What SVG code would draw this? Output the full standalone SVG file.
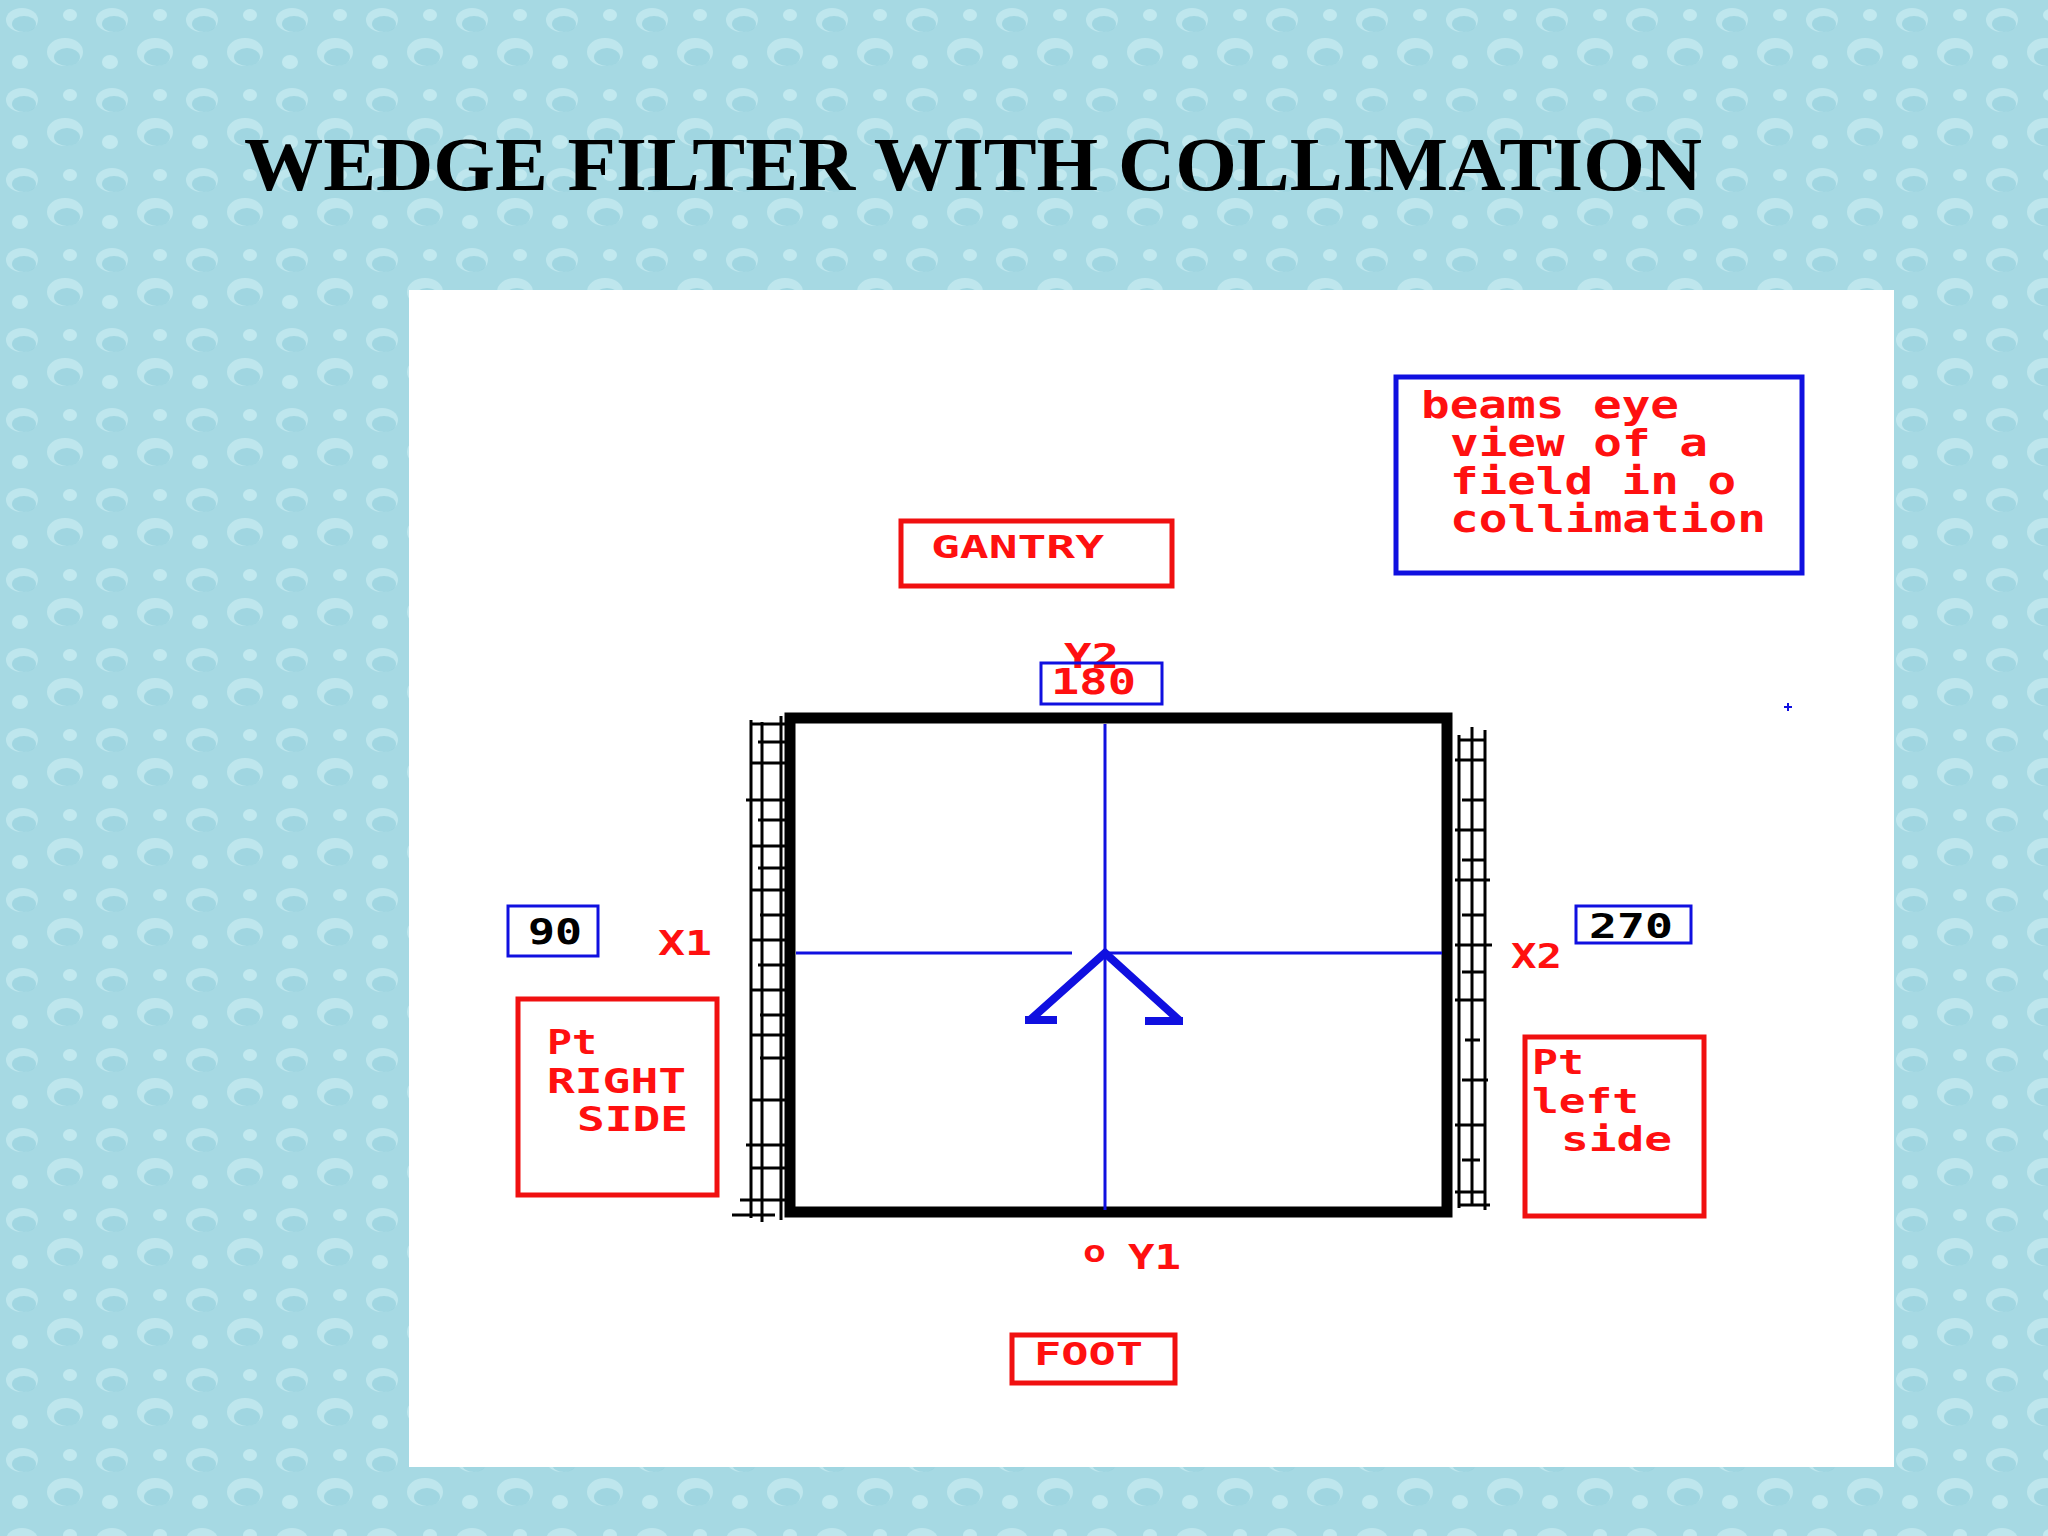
<svg xmlns="http://www.w3.org/2000/svg" width="2048" height="1536" viewBox="0 0 2048 1536">
<defs>
<pattern id="drops" width="90" height="80" patternUnits="userSpaceOnUse">
<rect width="90" height="80" fill="#a6d9e3"/>
<ellipse cx="22" cy="20" rx="16" ry="12" fill="#c4eaf0" opacity="0.8"/>
<ellipse cx="24" cy="24" rx="12" ry="8" fill="#8ccbd8" opacity="0.6"/>
<ellipse cx="65" cy="52" rx="18" ry="14" fill="#c4eaf0" opacity="0.8"/>
<ellipse cx="67" cy="57" rx="13" ry="9" fill="#8ccbd8" opacity="0.6"/>
<ellipse cx="70" cy="15" rx="7" ry="6" fill="#c9edf2" opacity="0.8"/>
<ellipse cx="20" cy="62" rx="8" ry="7" fill="#c9edf2" opacity="0.8"/>
</pattern>
<style>
.t{font-family:"DejaVu Sans Mono","Liberation Mono",monospace;font-weight:bold;fill:#ff1010}
.rb{fill:none;stroke:#f01010;stroke-width:5}
.bb{fill:none;stroke:#1010e0;stroke-width:3}
.tk{stroke:#000;stroke-width:3}
</style>
</defs>
<rect width="2048" height="1536" fill="url(#drops)"/>
<text x="244" y="190" font-family="Liberation Serif,serif" font-weight="bold" font-size="76" textLength="1458" lengthAdjust="spacingAndGlyphs" fill="#000">WEDGE FILTER WITH COLLIMATION</text>
<rect x="409" y="290" width="1485" height="1177" fill="#fff"/>

<g id="legend"><rect x="1396" y="377" width="406" height="196" class="bb" stroke-width="5" style="stroke-width:5"/>
<text class="t" x="1421" y="418" font-size="38" textLength="258" lengthAdjust="spacingAndGlyphs">beams eye</text>
<text class="t" x="1450" y="456" font-size="38" textLength="258" lengthAdjust="spacingAndGlyphs">view of a</text>
<text class="t" x="1450" y="494" font-size="38" textLength="286" lengthAdjust="spacingAndGlyphs">field in o</text>
<text class="t" x="1450" y="532" font-size="38" textLength="316" lengthAdjust="spacingAndGlyphs">collimation</text></g>

<g id="gantry"><rect x="901" y="521" width="271" height="65" class="rb"/><text class="t" x="931" y="558" font-size="32" textLength="173" lengthAdjust="spacingAndGlyphs">GANTRY</text></g>
<g id="y2"><text class="t" x="1064" y="668" font-size="34" textLength="55" lengthAdjust="spacingAndGlyphs">Y2</text></g>
<g id="n180"><rect x="1041" y="663" width="121" height="41" class="bb"/><text class="t" x="1051" y="694" font-size="36" textLength="85" lengthAdjust="spacingAndGlyphs">180</text></g>
<g id="n90"><rect x="508" y="906" width="90" height="50" class="bb"/><text x="528" y="944" font-family="DejaVu Sans Mono,monospace" font-weight="bold" font-size="36" textLength="54" lengthAdjust="spacingAndGlyphs" fill="#000">90</text></g>
<g id="x1"><text class="t" x="658" y="955" font-size="34" textLength="54" lengthAdjust="spacingAndGlyphs">X1</text></g>
<g id="n270"><rect x="1576" y="906" width="115" height="37" class="bb"/><text x="1589" y="938" font-family="DejaVu Sans Mono,monospace" font-weight="bold" font-size="34" textLength="84" lengthAdjust="spacingAndGlyphs" fill="#000">270</text></g>
<g id="x2"><text class="t" x="1511" y="968" font-size="34" textLength="51" lengthAdjust="spacingAndGlyphs">X2</text></g>
<g id="ptright"><rect x="518" y="999" width="199" height="196" class="rb"/>
<text class="t" x="547" y="1054" font-size="34" textLength="50" lengthAdjust="spacingAndGlyphs">Pt</text>
<text class="t" x="547" y="1093" font-size="34" textLength="139" lengthAdjust="spacingAndGlyphs">RIGHT</text>
<text class="t" x="577" y="1131" font-size="34" textLength="111" lengthAdjust="spacingAndGlyphs">SIDE</text></g>
<g id="ptleft"><rect x="1525" y="1037" width="179" height="179" class="rb"/>
<text class="t" x="1532" y="1074" font-size="34" textLength="52" lengthAdjust="spacingAndGlyphs">Pt</text>
<text class="t" x="1532" y="1113" font-size="34" textLength="107" lengthAdjust="spacingAndGlyphs">left</text>
<text class="t" x="1561" y="1151" font-size="34" textLength="111" lengthAdjust="spacingAndGlyphs">side</text></g>
<g id="y1"><text class="t" x="1083" y="1262" font-size="30" textLength="23" lengthAdjust="spacingAndGlyphs">o</text><text class="t" x="1128" y="1269" font-size="34" textLength="53" lengthAdjust="spacingAndGlyphs">Y1</text></g>
<g id="foot"><rect x="1012" y="1335" width="163" height="48" class="rb"/><text class="t" x="1034" y="1365" font-size="32" textLength="109" lengthAdjust="spacingAndGlyphs">FOOT</text></g>

<g id="field">
<rect x="790" y="718" width="657" height="494" fill="none" stroke="#000" stroke-width="11"/>
</g>
<g id="connectors">
<path d="M1105 724V1210M796 953H1072M1105 953H1442" stroke="#1010e0" stroke-width="3" fill="none"/>
<path d="M1030 1020L1105 953L1180 1021M1025 1020H1057M1145 1021H1183" stroke="#1010e0" stroke-width="8" fill="none"/>
<path d="M1784 707h8M1788 703v8" stroke="#1010e0" stroke-width="2"/>
<path class="tk" fill="none" d="M751 720V1218M762 722V1222M781 716V1220M751 724H785M758 742H785M751 763H785M746 800H785M758 820H785M751 846H785M758 868H785M751 890H785M760 915H785M751 940H785M758 965H785M751 990H785M760 1015H785M751 1035H785M760 1058H785M751 1100H785M746 1145H785M751 1168H785M740 1200H785M732 1215H775"/>
<path class="tk" fill="none" d="M1459 735V1208M1472 727V1205M1485 730V1210M1460 740H1485M1455 760H1485M1462 800H1485M1455 830H1485M1462 860H1485M1455 880H1490M1462 915H1485M1455 945H1492M1462 972H1485M1455 1000H1485M1465 1040H1480M1462 1080H1488M1455 1125H1485M1462 1160H1480M1455 1192H1485M1460 1205H1490"/>
</g>
</svg>
